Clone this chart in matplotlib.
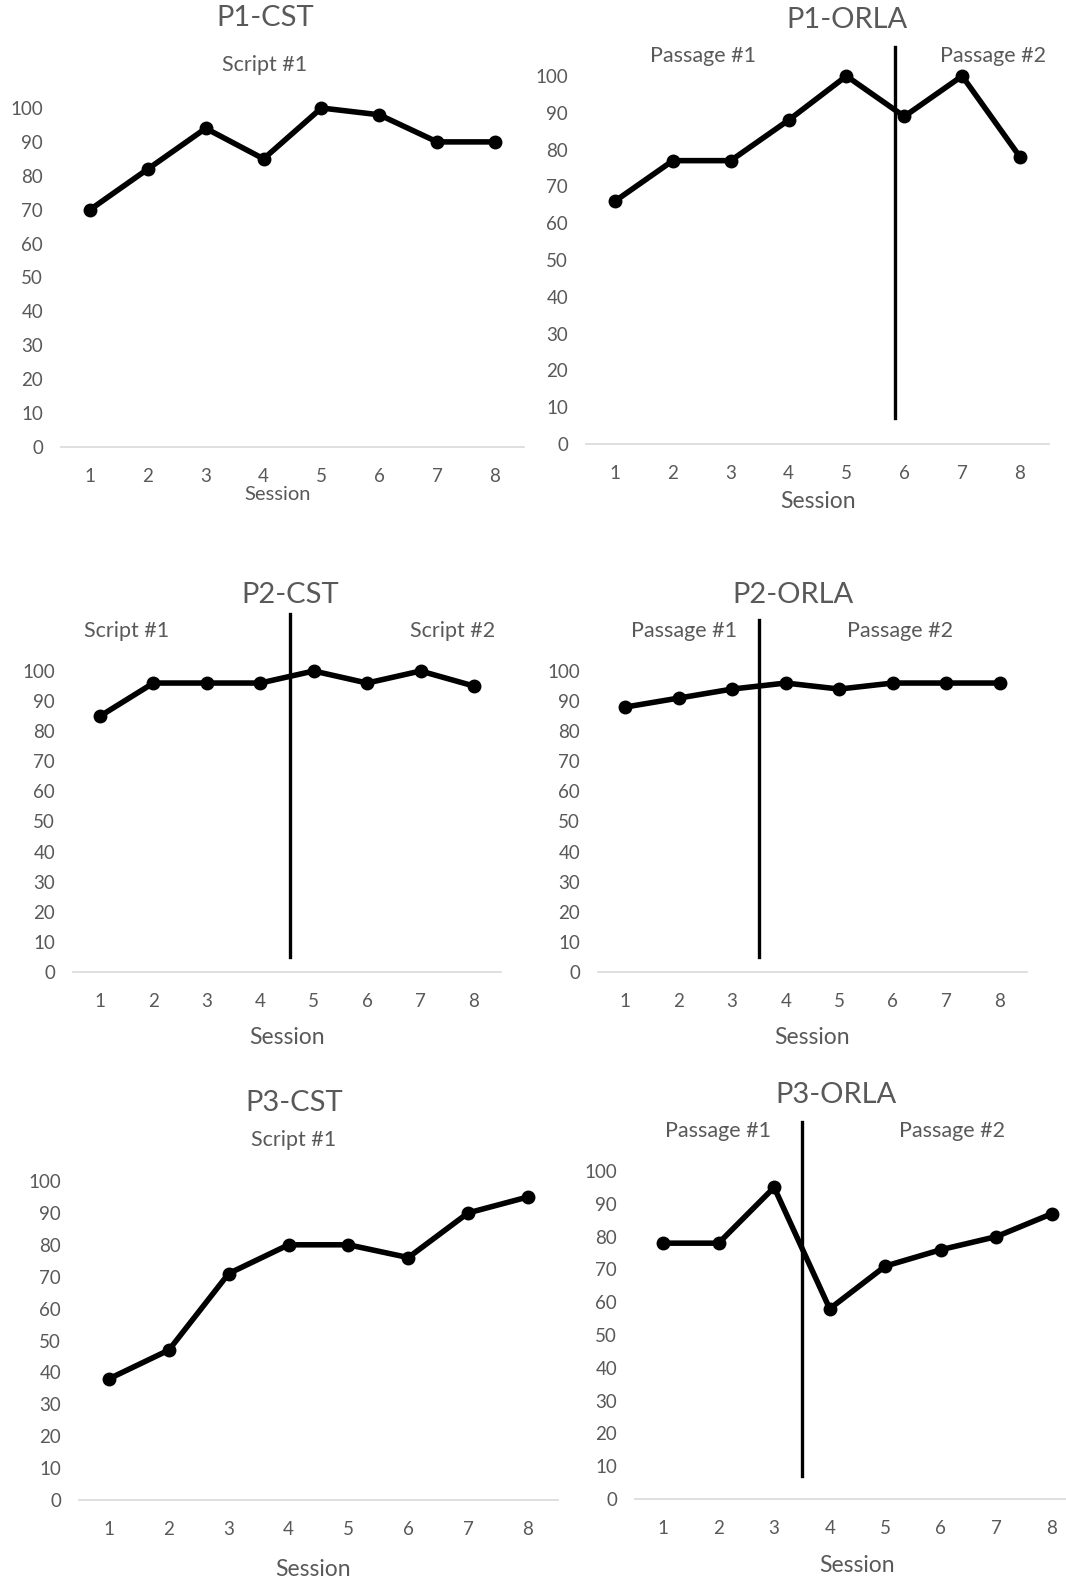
import matplotlib.pyplot as plt

# ---------------------------------------------------------
# data
# ---------------------------------------------------------
sessions = [1, 2, 3, 4, 5, 6, 7, 8]

p1_cst = [70, 82, 94, 85, 100, 98, 90, 90]
p1_orla = [66, 77, 77, 88, 100, 89, 100, 78]
p2_cst = [85, 96, 96, 96, 100, 96, 100, 95]
p2_orla = [88, 91, 94, 96, 94, 96, 96, 96]
p3_cst = [38, 47, 71, 80, 80, 76, 90, 95]
p3_orla = [78, 78, 95, 58, 71, 76, 80, 87]

series = [p1_cst, p1_orla, p2_cst, p2_orla, p3_cst, p3_orla]
titles = ['P1-CST', 'P1-ORLA', 'P2-CST', 'P2-ORLA', 'P3-CST', 'P3-ORLA']
phase_names = [
    ['Script #1'],
    ['Passage #1', 'Passage #2'],
    ['Script #1', 'Script #2'],
    ['Passage #1', 'Passage #2'],
    ['Script #1'],
    ['Passage #1', 'Passage #2'],
]
# phase change line: session position, bottom, top (data units)
phase_change = [None, (5.84, 7, 108), (4.56, 5, 119), (3.5, 5, 117), None, (3.5, 7, 115)]
yticks = list(range(0, 101, 10))

# ---------------------------------------------------------
# layout (pixels in the 1066 x 1581 picture)
# ---------------------------------------------------------
W, H = 1066, 1581
# x of session 1, x of session 8, y of 0, y of 100
frames = [
    (90, 495, 447, 108),
    (615, 1020, 444, 76),
    (100, 474, 972, 671),
    (625, 1000, 972, 671),
    (109, 528, 1500, 1181),
    (663, 1052, 1499, 1171),
]
title_xy = [(265, 18), (847, 20), (290, 595), (793, 595), (294, 1103), (836, 1095)]
phase_xy = [
    [(265, 65)],
    [(703, 56), (993, 56)],
    [(127, 631), (453, 631)],
    [(684, 631), (900, 631)],
    [(294, 1140)],
    [(718, 1131), (952, 1131)],
]
session_xy = [(278, 495), (818, 501), (287, 1037), (812, 1037), (313, 1569), (857, 1565)]
session_size = [14.5, 16.5, 16.5, 16.5, 16.5, 16.5]

grey = '#595959'
plt.rcParams['font.family'] = ['Lato', 'DejaVu Sans']

fig = plt.figure(figsize=(W / 100, H / 100), dpi=100)


def ftext(x, y, s, size):
    fig.text(x / W, 1 - y / H, s, ha='center', va='center', fontsize=size, color=grey)


for i in range(6):
    x1, x8, y0, y100 = frames[i]
    step = (x8 - x1) / 7
    left = x1 - step / 2
    width = step * 8
    ax = fig.add_axes([left / W, 1 - y0 / H, width / W, (y0 - y100) / H])

    ax.plot(sessions, series[i], color='black', linewidth=4,
            marker='o', markersize=9, clip_on=False, zorder=3)

    if phase_change[i] is not None:
        px, pb, pt = phase_change[i]
        ax.plot([px, px], [pb, pt], color='black', linewidth=2.4,
                clip_on=False, zorder=4)

    ax.set_xlim(0.5, 8.5)
    ax.set_ylim(0, 100)
    ax.set_xticks(sessions)
    ax.set_yticks(yticks)
    ax.tick_params(length=0, labelsize=13.5, labelcolor=grey)
    ax.tick_params(axis='x', pad=15)
    ax.tick_params(axis='y', pad=13)

    for side in ['top', 'right', 'left']:
        ax.spines[side].set_visible(False)
    ax.spines['bottom'].set_color('#d9d9d9')
    ax.spines['bottom'].set_linewidth(1.2)
    ax.patch.set_alpha(0)

    ftext(*title_xy[i], titles[i], 21)
    for name, xy in zip(phase_names[i], phase_xy[i]):
        ftext(*xy, name, 15.5)
    ftext(*session_xy[i], 'Session', session_size[i])

fig.savefig('out.png', dpi=100)
